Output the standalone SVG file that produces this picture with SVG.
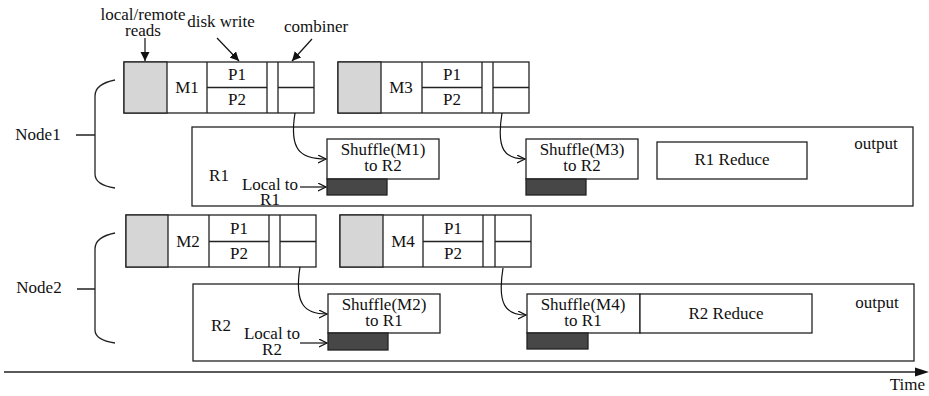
<svg xmlns="http://www.w3.org/2000/svg" width="929" height="396" viewBox="0 0 929 396">
<defs>
<style>
text{font-family:"Liberation Serif","Times New Roman",serif;font-size:17px;fill:#111;text-anchor:middle}
.b{fill:#fff;stroke:#222;stroke-width:1.3}
.g{fill:#d6d6d6;stroke:#222;stroke-width:1.3}
.d{fill:#474747;stroke:#222;stroke-width:1.3}
.l{fill:none;stroke:#222;stroke-width:1.3}
.c{fill:none;stroke:#111;stroke-width:1.2}
</style>
<marker id="open" markerWidth="10" markerHeight="10" refX="8" refY="4" orient="auto" markerUnits="userSpaceOnUse"><path d="M0,0 L8,4 L0,8" fill="none" stroke="#111" stroke-width="1.2"/></marker>
<marker id="fill" markerWidth="12" markerHeight="12" refX="9" refY="4.5" orient="auto" markerUnits="userSpaceOnUse"><path d="M0,0 L9,4.5 L0,9 Z" fill="#111"/></marker>
</defs>
<rect width="929" height="396" fill="#fff"/>

<g id="labels">
<text x="143" y="20">local/remote</text>
<text x="143" y="36">reads</text>
<text x="221" y="27">disk write</text>
<text x="316" y="32">combiner</text>
</g>

<g id="node1">
<path class="l" d="M115,80 Q95,84 95,96 L95,174 Q95,185 115,188 M76,135 L95,135"/>
<text x="38" y="140">Node1</text>
</g>
<g id="node2">
<path class="l" d="M115,233 Q95,237 95,249 L95,330 Q95,340 115,343 M77,289 L95,289"/>
<text x="39" y="293">Node2</text>
</g>

<g id="R1">
<rect class="b" x="192" y="127" width="721" height="79"/>
<text x="219" y="181">R1</text>
<text x="270" y="190">Local to</text>
<text x="270" y="205">R1</text>
<text x="876" y="149">output</text>
</g>
<g id="R2">
<rect class="b" x="193" y="284" width="721" height="77"/>
<text x="221" y="331">R2</text>
<text x="272" y="339">Local to</text>
<text x="272" y="355">R2</text>
<text x="877" y="308">output</text>
</g>

<g id="M1">
<rect class="b" x="124" y="62" width="190" height="51"/>
<rect class="g" x="124" y="62" width="43" height="51"/>
<path class="l" d="M207,62 V113 M267,62 V113 M278,62 V113 M207,87.5 H267 M278,87.5 H314"/>
<text x="187" y="93">M1</text>
<text x="237" y="80">P1</text>
<text x="237" y="105">P2</text>
</g>
<g id="M3">
<rect class="b" x="338" y="62" width="191" height="51"/>
<rect class="g" x="338" y="62" width="43" height="51"/>
<path class="l" d="M422,62 V113 M482,62 V113 M493,62 V113 M422,87.5 H482 M493,87.5 H529"/>
<text x="401" y="93">M3</text>
<text x="452" y="80">P1</text>
<text x="452" y="105">P2</text>
</g>
<g id="M2">
<rect class="b" x="126" y="215" width="190" height="52"/>
<rect class="g" x="126" y="215" width="42" height="52"/>
<path class="l" d="M209,215 V267 M269,215 V267 M280,215 V267 M209,241.5 H269 M280,241.5 H316"/>
<text x="188" y="247">M2</text>
<text x="239" y="234">P1</text>
<text x="239" y="259">P2</text>
</g>
<g id="M4">
<rect class="b" x="340" y="215" width="191" height="52"/>
<rect class="g" x="340" y="215" width="43" height="52"/>
<path class="l" d="M423,215 V267 M483,215 V267 M495,215 V267 M423,241.5 H483 M495,241.5 H531"/>
<text x="403" y="247">M4</text>
<text x="453" y="234">P1</text>
<text x="453" y="259">P2</text>
</g>

<g id="shuffleM1">
<rect class="b" x="327" y="139" width="112" height="40"/>
<rect class="d" x="327" y="179" width="60" height="16"/>
<text x="383" y="155">Shuffle(M1)</text>
<text x="383" y="171">to R2</text>
</g>
<g id="shuffleM3">
<rect class="b" x="526" y="139" width="112" height="40"/>
<rect class="d" x="526" y="179" width="60" height="16"/>
<text x="582" y="155">Shuffle(M3)</text>
<text x="582" y="171">to R2</text>
</g>
<g id="R1reduce">
<rect class="b" x="657" y="142" width="150" height="37"/>
<text x="732" y="165">R1 Reduce</text>
</g>
<g id="shuffleM2">
<rect class="b" x="328" y="294" width="112" height="39"/>
<rect class="d" x="328" y="333" width="60" height="17"/>
<text x="384" y="310">Shuffle(M2)</text>
<text x="384" y="326">to R1</text>
</g>
<g id="shuffleM4">
<rect class="b" x="527" y="294" width="113" height="39"/>
<rect class="d" x="527" y="333" width="61" height="16"/>
<text x="583" y="310">Shuffle(M4)</text>
<text x="583" y="326">to R1</text>
</g>
<g id="R2reduce">
<rect class="b" x="640" y="294" width="172" height="39"/>
<text x="726" y="319">R2 Reduce</text>
</g>

<g id="connectors">
<path class="c" d="M145,38 L145,61" marker-end="url(#fill)"/>
<path class="c" d="M217,38 L239,61" marker-end="url(#fill)"/>
<path class="c" d="M312,39 L292,61" marker-end="url(#fill)"/>
<path class="c" d="M295,113 C289,150 300,159 326,159" marker-end="url(#open)"/>
<path class="c" d="M502,113 C496,150 505,159 525,159" marker-end="url(#open)"/>
<path class="c" d="M300,267 C294,305 305,314 327,314" marker-end="url(#open)"/>
<path class="c" d="M503,268 C497,305 506,315 526,315" marker-end="url(#open)"/>
<path class="c" d="M300,187 L326,187" marker-end="url(#open)"/>
<path class="c" d="M300,343 L327,343" marker-end="url(#open)"/>
</g>

<g id="time">
<path class="l" d="M4,372 L917,372"/>
<path d="M915,367.5 L929,372 L915,376.5 Z" fill="#111"/>
<text x="925" y="390" style="text-anchor:end">Time</text>
</g>
</svg>
